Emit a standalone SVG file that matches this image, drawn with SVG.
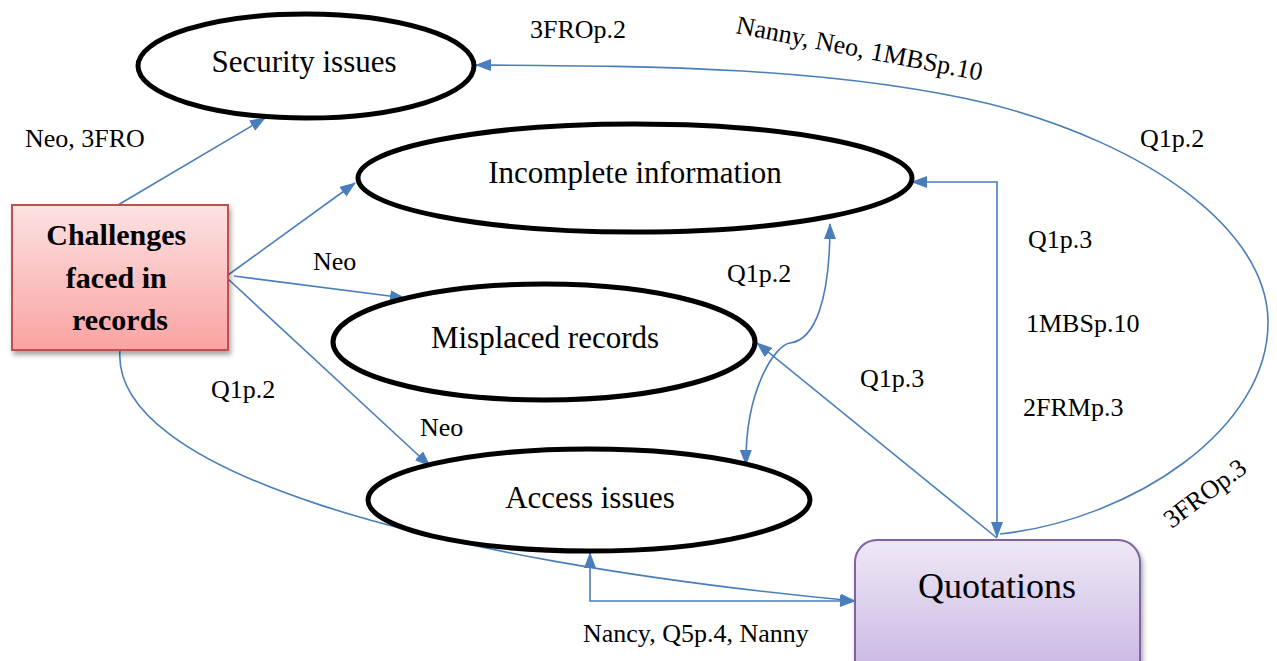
<svg xmlns="http://www.w3.org/2000/svg" width="1277" height="661" viewBox="0 0 1277 661">
  <defs>
    <linearGradient id="gradChallenges" x1="0" y1="0" x2="0" y2="1">
      <stop offset="0" stop-color="#fde2e2"/>
      <stop offset="1" stop-color="#f9a3a2"/>
    </linearGradient>
    <linearGradient id="gradQuotes" x1="0" y1="0" x2="0" y2="1">
      <stop offset="0" stop-color="#eee8f6"/>
      <stop offset="1" stop-color="#c6b3e2"/>
    </linearGradient>
    <filter id="shadow" x="-10%" y="-10%" width="130%" height="130%">
      <feGaussianBlur in="SourceAlpha" stdDeviation="2.5"/>
      <feOffset dx="2" dy="4" result="b"/>
      <feComponentTransfer><feFuncA type="linear" slope="0.35"/></feComponentTransfer>
      <feMerge><feMergeNode/><feMergeNode in="SourceGraphic"/></feMerge>
    </filter>
    <marker id="arrow" viewBox="0 0 16 12" refX="15" refY="6" markerWidth="16" markerHeight="12" markerUnits="userSpaceOnUse" orient="auto-start-reverse">
      <path d="M0,0 L16,6 L0,12 z" fill="#4a7ebb"/>
    </marker>
  </defs>
  <style>
    .topic { fill: #ffffff; stroke: #000000; stroke-width: 5; }
    .topic-text { font-family: "Liberation Serif", "Times New Roman", serif; font-size: 31px; fill: #000; text-anchor: middle; }
    .label { font-family: "Liberation Serif", "Times New Roman", serif; font-size: 26px; fill: #000; }
    .link { fill: none; stroke: #4a7ebb; stroke-width: 1.6; }
    .head { marker-end: url(#arrow); }
    .both { marker-start: url(#arrow); marker-end: url(#arrow); }
  </style>

  <rect width="1277" height="661" fill="#ffffff"/>

  <!-- connectors -->
  <g id="connectors">
    <path class="link head" d="M118,205 L265,118"/>
    <path class="link head" d="M228,275 L355,183"/>
    <path class="link head" d="M234,276 L405,298"/>
    <path class="link head" d="M228,279 L430,466"/>
    <path class="link head" d="M120,350 C110,470 420,560 855,601"/>
    <path class="link both" d="M590,553 L590,601 L855,601"/>
    <path class="link head" d="M997,538 L757,343"/>
    <path class="link both" d="M912,182 L997,182 L997,537"/>
    <path class="link head" d="M1000,534 C1130,520 1270,430 1268,320 C1266,230 1150,145 990,104 C830,66 640,66 476,65"/>
    <path class="link both" d="M830,224 C830,300 815,340 790,343 C775,345 745,390 746,465"/>
  </g>

  <!-- edge labels -->
  <g id="labels">
    <text class="label" x="530" y="38">3FROp.2</text>
    <text class="label" x="735" y="33" transform="rotate(11 735 33)">Nanny, Neo, 1MBSp.10</text>
    <text class="label" x="1140" y="147">Q1p.2</text>
    <text class="label" x="25" y="147">Neo, 3FRO</text>
    <text class="label" x="313" y="270">Neo</text>
    <text class="label" x="211" y="398">Q1p.2</text>
    <text class="label" x="420" y="436">Neo</text>
    <text class="label" x="727" y="282">Q1p.2</text>
    <text class="label" x="1028" y="248">Q1p.3</text>
    <text class="label" x="1026" y="332">1MBSp.10</text>
    <text class="label" x="1023" y="416">2FRMp.3</text>
    <text class="label" x="860" y="387">Q1p.3</text>
    <text class="label" x="1210" y="500" text-anchor="middle" transform="rotate(-37 1210 500)">3FROp.3</text>
    <text class="label" x="583" y="642">Nancy, Q5p.4, Nanny</text>
  </g>

  <!-- nodes -->
  <g id="node-challenges">
    <rect x="12" y="205" width="216" height="145" fill="url(#gradChallenges)" stroke="#c0504d" stroke-width="2" filter="url(#shadow)"/>
    <text font-family="'Liberation Serif', 'Times New Roman', serif" font-size="30" font-weight="bold" text-anchor="middle" fill="#000">
      <tspan x="120" y="245">Challenges</tspan>
      <tspan x="120" y="288">faced in</tspan>
      <tspan x="120" y="330">records</tspan>
    </text>
  </g>

  <g id="node-security">
    <ellipse class="topic" cx="306" cy="66" rx="168" ry="52"/>
    <text class="topic-text" x="304" y="72">Security issues</text>
  </g>

  <g id="node-incomplete">
    <ellipse class="topic" cx="635" cy="178" rx="277" ry="54"/>
    <text class="topic-text" x="635" y="183">Incomplete information</text>
  </g>

  <g id="node-misplaced">
    <ellipse class="topic" cx="544" cy="342" rx="211" ry="58"/>
    <text class="topic-text" x="545" y="348">Misplaced records</text>
  </g>

  <g id="node-access">
    <ellipse class="topic" cx="589" cy="500" rx="221" ry="51"/>
    <text class="topic-text" x="590" y="508">Access issues</text>
  </g>

  <g id="node-quotations">
    <rect x="855" y="540" width="285" height="145" rx="22" ry="22" fill="url(#gradQuotes)" stroke="#8064a2" stroke-width="2" filter="url(#shadow)"/>
    <text x="997" y="598" font-family="'Liberation Serif', 'Times New Roman', serif" font-size="36" text-anchor="middle" fill="#000">Quotations</text>
  </g>
</svg>
